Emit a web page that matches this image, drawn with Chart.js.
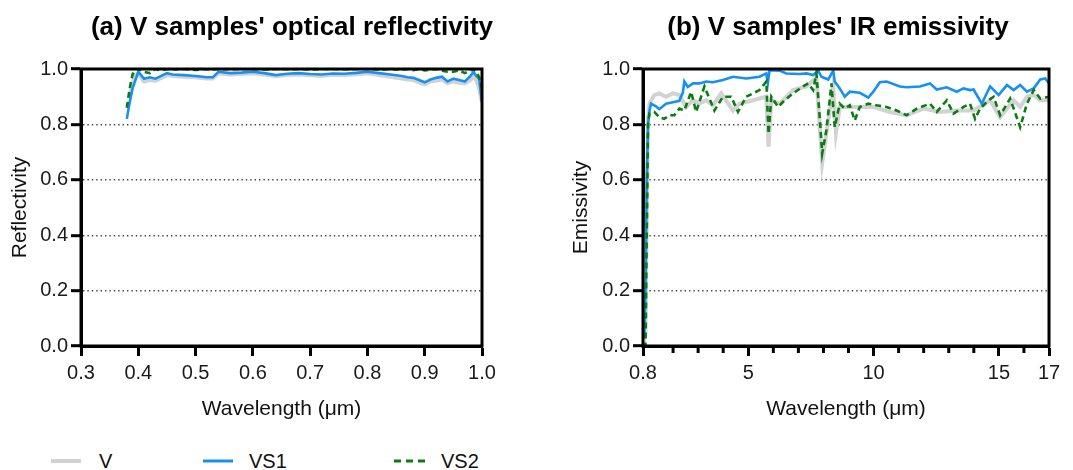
<!DOCTYPE html>
<html>
<head>
<meta charset="utf-8">
<script src="https://cdn.jsdelivr.net/npm/chart.js@4.4.0/dist/chart.umd.min.js"></script>
<style>
body{margin:0;background:#fff;width:1073px;height:470px;position:relative;overflow:hidden;font-family:"Liberation Sans",Arial,sans-serif}
#c1{position:absolute;left:0;top:0}
#c2{position:absolute;left:540px;top:0}
.leg{position:absolute;top:449px;height:24px;line-height:24px;font-size:20px;color:#111}
.leg svg{position:absolute;top:9px}
</style>
</head>
<body>
<canvas id="c1" width="505" height="430"></canvas>
<canvas id="c2" width="533" height="430"></canvas>
<div id="legend"></div>
<script>
// series names / colours
const seriesNames = ['V', 'VS1', 'VS2']
const seriesColors = ['#d2d2d2', '#1690f2', '#0a7d12']

// (a) optical reflectivity
const optX   = [0.38,0.385,0.39,0.395,0.40,0.41,0.42,0.43,0.44,0.45,0.46,0.48,0.50,0.52,0.53,0.54,0.56,0.58,0.60,0.62,0.64,0.66,0.68,0.70,0.72,0.74,0.76,0.78,0.80,0.82,0.84,0.86,0.87,0.88,0.89,0.90,0.91,0.92,0.93,0.94,0.95,0.96,0.97,0.98,0.985,0.99,0.995,1.0]
const optV   = [null,0.90,0.95,0.975,0.985,0.955,0.96,0.958,0.968,0.978,0.975,0.972,0.97,0.966,0.966,0.985,0.98,0.982,0.985,0.98,0.974,0.978,0.98,0.977,0.975,0.979,0.978,0.981,0.985,0.978,0.972,0.966,0.962,0.96,0.952,0.945,0.955,0.958,0.962,0.948,0.955,0.95,0.948,0.96,0.975,0.96,0.93,0.88]
const optVS1 = [0.82,0.88,0.93,0.96,0.99,0.965,0.97,0.965,0.975,0.985,0.98,0.978,0.975,0.97,0.97,0.99,0.985,0.987,0.99,0.985,0.978,0.983,0.985,0.982,0.98,0.984,0.983,0.986,0.99,0.985,0.98,0.975,0.97,0.968,0.96,0.952,0.962,0.968,0.972,0.955,0.965,0.96,0.955,0.975,0.99,0.975,0.965,0.88]
const optVS2 = [0.86,0.93,0.98,1.0,1.0,0.99,0.985,1.0,0.995,1.0,0.998,1.0,0.997,1.0,0.998,1.0,0.999,1.0,1.0,0.998,1.0,0.999,1.0,0.998,1.0,1.0,0.999,1.0,1.0,0.998,1.0,0.997,1.0,0.996,1.0,0.995,0.998,1.0,0.994,0.99,0.99,0.995,0.985,0.995,1.0,0.99,0.97,0.93]

// (b) IR emissivity
const irVX   = [0.8,0.9,0.95,1.0,1.06,1.25,1.45,1.72,1.99,2.25,2.52,2.79,3.05,3.32,3.59,3.92,4.39,4.65,5.19,5.72,5.81,5.92,6.25,6.79,7.32,7.72,7.95,8.12,8.39,8.5,8.65,9.25,9.99,10.65,11.32,11.99,12.65,13.32,13.99,14.65,15.05,15.59,15.85,16.12,16.39,16.65,17.0]
const irV    = [0.0,0.05,0.5,0.82,0.875,0.906,0.912,0.9,0.912,0.906,0.863,0.887,0.875,0.887,0.869,0.912,0.85,0.875,0.887,0.9,0.72,0.887,0.875,0.924,0.937,0.97,0.66,0.77,0.937,0.77,0.863,0.863,0.863,0.845,0.833,0.857,0.845,0.85,0.85,0.887,0.826,0.887,0.863,0.9,0.906,0.887,0.887]
const irVS1X = [0.8,0.85,0.9,0.95,1.0,1.06,1.12,1.32,1.45,1.72,1.99,2.25,2.39,2.45,2.59,2.79,3.05,3.32,3.59,3.99,4.39,4.92,5.45,5.72,5.78,5.85,6.25,6.52,7.05,7.32,7.59,7.79,7.92,8.19,8.39,8.45,8.65,8.85,9.05,9.45,9.79,9.99,10.25,10.52,11.05,11.32,11.85,12.25,12.52,12.92,13.32,13.59,13.85,13.99,14.32,14.45,14.65,14.99,15.32,15.59,15.85,16.12,16.39,16.65,16.85,17.0]
const irVS1  = [0.03,0.04,0.2,0.6,0.8,0.85,0.875,0.865,0.855,0.875,0.88,0.885,0.915,0.955,0.935,0.948,0.948,0.955,0.952,0.96,0.972,0.966,0.972,0.984,0.948,0.996,0.994,0.984,0.982,0.984,0.978,0.994,0.972,0.962,0.994,0.955,0.93,0.9,0.918,0.914,0.897,0.918,0.952,0.955,0.937,0.934,0.937,0.948,0.926,0.934,0.918,0.93,0.924,0.926,0.875,0.9,0.937,0.906,0.942,0.924,0.942,0.918,0.93,0.962,0.966,0.948]
const irVS2X = [0.8,0.9,0.95,1.0,1.06,1.25,1.45,1.65,1.85,2.05,2.25,2.45,2.72,2.92,3.25,3.65,3.99,4.32,4.59,4.92,5.19,5.45,5.72,5.81,5.92,6.19,6.45,6.79,7.19,7.39,7.59,7.72,7.85,7.95,8.12,8.32,8.45,8.65,8.85,9.05,9.25,9.45,9.79,10.12,10.52,10.92,11.32,11.72,12.25,12.52,12.92,13.19,13.59,13.85,14.05,14.25,14.59,14.79,15.05,15.45,15.85,16.12,16.39,16.65,17.0]
const irVS2  = [0.0,0.0,0.4,0.8,0.84,0.845,0.826,0.82,0.833,0.833,0.857,0.85,0.918,0.845,0.937,0.85,0.9,0.9,0.845,0.9,0.912,0.924,0.955,0.766,0.9,0.863,0.887,0.912,0.937,0.948,0.924,0.984,0.826,0.695,0.78,0.948,0.79,0.875,0.857,0.869,0.814,0.863,0.875,0.869,0.863,0.85,0.833,0.857,0.875,0.845,0.887,0.839,0.863,0.875,0.82,0.857,0.887,0.9,0.833,0.893,0.79,0.875,0.924,0.893,0.9]
const irTicks  = [0.8,2,3,4,5,6,7,8,9,10,11,12,13,14,15,16,17]
const irLabels = [0.8,5,10,15,17]

const fam = '"Liberation Sans", Arial, sans-serif'

function pts(xs, ys){
    return xs.map((x,i)=>({x:x, y:ys[i]}))
}

function makeSets(xsList, ysList){
    return ysList.map((ys,i)=>({
        label: seriesNames[i],
        data: pts(xsList[i], ys),
        borderColor: seriesColors[i],
        borderWidth: i==0 ? 4 : 2.6,
        borderDash: i==2 ? [6,4] : [],
        pointRadius: 0,
        tension: 0,
        spanGaps: false,
        order: 3-i
    }))
}

// panel title + frame + short minor ticks
const panelPlugin = {
    id: 'panel',
    afterDatasetsDraw(chart, args, opts){
        const c = chart.ctx, a = chart.chartArea
        c.save()
        c.strokeStyle = '#000'
        c.lineWidth = 3
        c.strokeRect(a.left, a.top, a.right-a.left, a.bottom-a.top)
        if(opts.minor){
            const xs = chart.scales.x
            c.beginPath()
            opts.minor.forEach(v=>{
                const px = xs.getPixelForValue(v)
                c.moveTo(px, a.bottom)
                c.lineTo(px, a.bottom+7)
            })
            c.stroke()
        }
        c.font = 'bold 26px ' + fam
        c.fillStyle = '#000'
        c.textAlign = 'center'
        c.textBaseline = 'middle'
        c.fillText(opts.text, opts.x, opts.y)
        c.restore()
    }
}

function yAxis(title, w, titlePad){
    return {
        min: 0, max: 1,
        afterFit(s){ s.width = w },
        ticks: {stepSize: 0.2, callback: v=>v.toFixed(1), font: {size: 20, family: fam}, color: '#1a1a1a', padding: 3},
        grid: {
            color: c=>(c.tick && (Math.abs(c.tick.value)<1e-6 || Math.abs(c.tick.value-1)<1e-6)) ? 'rgba(0,0,0,0)' : '#444',
            lineWidth: 1.4, tickLength: 10, tickColor: '#000', tickWidth: 3
        },
        border: {color: '#000', width: 3, dash: [1.4,3]},
        title: {display: true, text: title, font: {size: 21, family: fam}, color: '#111', padding: {top: titlePad}}
    }
}

function xAxisBase(){
    return {
        type: 'linear',
        afterFit(s){ s.height = 84 },
        grid: {display: true, drawOnChartArea: false, drawTicks: true, tickLength: 10, tickWidth: 3, tickColor: '#000'},
        border: {color: '#000', width: 3},
        title: {display: true, text: 'Wavelength (\u03bcm)', font: {size: 21, family: fam}, color: '#111', padding: {top: 4, bottom: 8}}
    }
}

function renderOptChart(){
    const x = xAxisBase()
    x.min = 0.3; x.max = 1.0
    x.ticks = {stepSize: 0.1, autoSkip: false, maxRotation: 0, callback: v=>v.toFixed(1), font: {size: 20, family: fam}, color: '#1a1a1a', padding: 5}
    new Chart(document.querySelector('#c1'), {
        type: 'line',
        data: {datasets: makeSets([optX,optX,optX], [optV,optVS1,optVS2])},
        options: {
            responsive: false, animation: false,
            layout: {padding: {top: 69, right: 23, bottom: 0, left: 0}},
            scales: {x: x, y: yAxis('Reflectivity', 81, 8)},
            plugins: {legend: {display: false}, tooltip: {enabled: false},
                panel: {text: "(a) V samples' optical reflectivity", x: 292, y: 28}}
        },
        plugins: [panelPlugin]
    })
}

function renderIrChart(){
    const x = xAxisBase()
    x.min = 0.8; x.max = 17
    x.afterBuildTicks = s=>{ s.ticks = irTicks.map(v=>({value: v})) }
    x.ticks = {autoSkip: false, maxRotation: 0, callback: v=>irLabels.includes(v) ? String(v) : '', font: {size: 20, family: fam}, color: '#1a1a1a', padding: 5}
    x.grid.tickColor = c=>(c.tick && irLabels.includes(c.tick.value)) ? '#000' : 'rgba(0,0,0,0)'
    new Chart(document.querySelector('#c2'), {
        type: 'line',
        data: {datasets: makeSets([irVX,irVS1X,irVS2X], [irV,irVS1,irVS2])},
        options: {
            responsive: false, animation: false,
            layout: {padding: {top: 69, right: 24, bottom: 0, left: 0}},
            scales: {x: x, y: yAxis('Emissivity', 103, 29)},
            plugins: {legend: {display: false}, tooltip: {enabled: false},
                panel: {text: "(b) V samples' IR emissivity", x: 298, y: 28,
                    minor: irTicks.filter(v=>!irLabels.includes(v))}}
        },
        plugins: [panelPlugin]
    })
}

function renderLegend(){
    const lineX = [51, 203, 394]
    const textX = [99, 249, 441]
    const box = document.querySelector('#legend')
    seriesNames.forEach((name,i)=>{
        const w = i==2 ? 33 : 30
        const dash = i==2 ? 'stroke-dasharray="7,5"' : ''
        const sw = document.createElement('div')
        sw.className = 'leg'
        sw.style.left = lineX[i] + 'px'
        sw.innerHTML = `<svg width="${w}" height="6"><line x1="0" y1="3" x2="${w}" y2="3" stroke="${seriesColors[i]}" stroke-width="${i==0?4:3}" ${dash}/></svg>`
        box.appendChild(sw)
        const t = document.createElement('div')
        t.className = 'leg'
        t.style.left = textX[i] + 'px'
        t.textContent = name
        box.appendChild(t)
    })
}

renderOptChart()
renderIrChart()
renderLegend()
</script>
</body>
</html>
